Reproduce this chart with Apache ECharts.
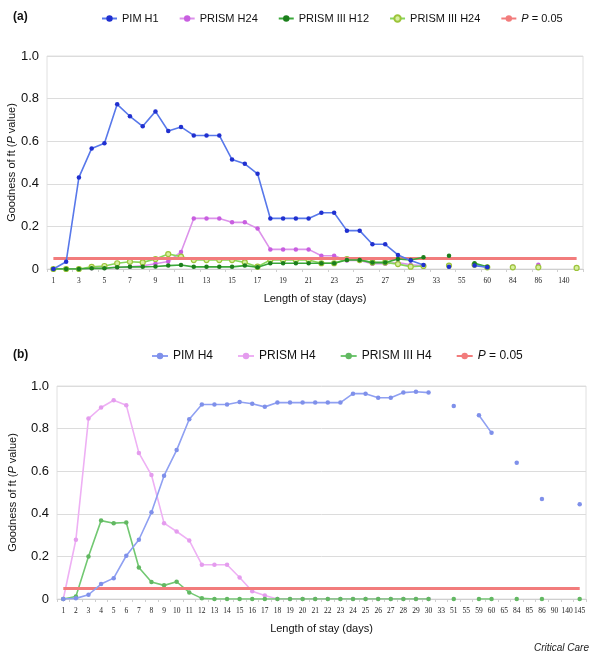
<!DOCTYPE html>
<html>
<head>
<meta charset="utf-8">
<script src="https://cdn.jsdelivr.net/npm/echarts@6/dist/echarts.min.js"></script>
<style>
html,body{margin:0;padding:0;background:#fff;}
#chart{width:600px;height:654px;}
</style>
</head>
<body>
<div id="chart"></div>
<script>
// Categories: length of stay (days)
const categories = ['1','2','3','4','5','6','7','8','9','10','11','12','13','14','15','16','17','18','19','20',
  '21','22','23','24','25','26','27','28','29','30','33','51','55','59','60','65','84','85','86','90','140','145'];

const yTicks = [0, 0.2, 0.4, 0.6, 0.8, 1.0];
const pValue = 0.05;

// Panel (a)
const pimH1 = [0, 0.034, 0.43, 0.566, 0.59, 0.773, 0.717, 0.67, 0.74, 0.648, 0.667, 0.627, 0.627, 0.627, 0.514, 0.494, 0.447,
  0.2375, 0.2375, 0.2375, 0.2375, 0.264, 0.264, 0.18, 0.18, 0.116, 0.116, 0.066, 0.04, 0.019,
  null, 0.011, null, 0.016, 0.008, null, null, null, null, null, null, null];
const prismH24 = [0, 0, 0, 0.003, 0.005, 0.008, 0.01, 0.015, 0.025, 0.035, 0.08, 0.2375, 0.2375, 0.2375, 0.219, 0.219, 0.19,
  0.092, 0.092, 0.092, 0.092, 0.0625, 0.0625, 0.04, 0.04, 0.025, 0.025, 0.03, 0.02, 0.015,
  null, null, null, null, null, null, 0.012, null, 0.02, null, null, null];
const prism3H12 = [0, 0, 0, 0.003, 0.003, 0.008, 0.01, 0.01, 0.012, 0.016, 0.019, 0.01, 0.01, 0.01, 0.01, 0.016, 0.008,
  0.027, 0.027, 0.027, 0.027, 0.027, 0.027, 0.042, 0.042, 0.03, 0.03, 0.047, 0.042, 0.055,
  null, 0.0625, null, 0.027, 0.01, null, null, null, null, null, null, null];
const prism3H24 = [0, 0, 0, 0.01, 0.014, 0.027, 0.034, 0.031, 0.047, 0.07, 0.058, 0.042, 0.042, 0.042, 0.042, 0.031, 0.011,
  0.042, 0.042, 0.042, 0.042, 0.027, 0.027, 0.047, 0.042, 0.031, 0.031, 0.023, 0.011, 0.014,
  null, 0.016, null, 0.02, 0.008, null, 0.008, null, 0.008, null, null, 0.005];

// Panel (b)
const pimH4 = [0, 0.003, 0.02, 0.07, 0.098, 0.203, 0.278, 0.407, 0.579, 0.699, 0.844, 0.913, 0.913, 0.913, 0.925, 0.917, 0.902,
  0.922, 0.922, 0.922, 0.922, 0.922, 0.922, 0.964, 0.964, 0.945, 0.945, 0.969, 0.973, 0.969,
  null, 0.906, null, 0.863, 0.78, null, 0.64, null, 0.47, null, null, 0.445];
const prismH4 = [0, 0.278, 0.847, 0.899, 0.933, 0.91, 0.686, 0.582, 0.356, 0.317, 0.275, 0.161, 0.161, 0.161, 0.101, 0.036, 0.016,
  0, 0, 0, 0, 0, 0, 0, 0, 0, 0, 0, 0, 0,
  null, null, null, null, null, null, null, null, null, null, null, null];
const prism3H4 = [0, 0.012, 0.2, 0.368, 0.356, 0.359, 0.148, 0.08, 0.064, 0.081, 0.031, 0.003,
  0, 0, 0, 0, 0, 0, 0, 0, 0, 0, 0, 0, 0, 0, 0, 0, 0, 0,
  null, 0, null, 0, 0, null, 0, null, 0, null, null, 0];

const FONT = "'Liberation Sans', Arial, sans-serif";
const SERIF = "'Liberation Serif', 'Times New Roman', serif";

function lineSeries(name, data, axis, lineColor, dotColor, opts) {
  opts = opts || {};
  return {
    name: name, type: 'line', data: data,
    xAxisIndex: axis, yAxisIndex: axis,
    connectNulls: false,
    symbol: opts.symbol || 'circle',
    symbolSize: opts.size || 4.5,
    showSymbol: true,
    lineStyle: {color: lineColor, width: opts.width || 1.6},
    itemStyle: {color: opts.fill || dotColor, borderColor: dotColor, borderWidth: opts.bw || 0},
    color: lineColor,
    z: opts.z || 3,
    animation: false
  };
}

function pSeries(axis, color) {
  return {
    name: 'P = 0.05', type: 'line', data: [],
    xAxisIndex: axis, yAxisIndex: axis,
    symbol: 'none', color: color,
    lineStyle: {color: color, width: 3},
    z: 2, animation: false,
    markLine: {
      symbol: 'none', silent: true, animation: false,
      label: {show: false},
      lineStyle: {color: color, width: 3, type: 'solid'},
      data: [[{coord: [categories[0], pValue]}, {coord: [categories[categories.length - 1], pValue]}]]
    }
  };
}

function xAxisCfg(grid, interval) {
  return {
    type: 'category', gridIndex: grid, data: categories, boundaryGap: true,
    name: 'Length of stay (days)', nameLocation: 'middle', nameGap: 24,
    nameTextStyle: {fontFamily: FONT, fontSize: 11, color: '#111'},
    axisLine: {show: true, lineStyle: {color: '#cfcfcf'}},
    axisTick: {show: true, alignWithLabel: false, length: 3, lineStyle: {color: '#cfcfcf'}},
    axisLabel: {interval: interval, fontFamily: SERIF, fontSize: 7.5, color: '#222', margin: 8, hideOverlap: false},
    splitLine: {show: false}
  };
}

function yAxisCfg(grid, gap) {
  return {
    type: 'value', gridIndex: grid, min: 0, max: 1, interval: 0.2,
    name: 'Goodness of ft ({i|P} value)', nameLocation: 'middle', nameRotate: 90, nameGap: gap,
    nameMoveOverlap: false,
    nameTextStyle: {fontFamily: FONT, fontSize: 11, color: '#111',
      rich: {i: {fontStyle: 'italic', fontFamily: FONT, fontSize: 11, color: '#111'}}},
    axisLine: {show: false}, axisTick: {show: false},
    axisLabel: {fontFamily: FONT, fontSize: 13, color: '#111', margin: 8,
      formatter: v => (v === 0 ? '0' : v.toFixed(1))},
    splitLine: {show: true, lineStyle: {color: '#dcdcdc', width: 1}}
  };
}

const legendRichA = {i: {fontStyle: 'italic', fontFamily: FONT, fontSize: 11, color: '#111'}};
const legendRichB = {i: {fontStyle: 'italic', fontFamily: FONT, fontSize: 12, color: '#111'}};
const legendFmt = name => (name === 'P = 0.05' ? '{i|P} = 0.05' : name);

const option = {
  backgroundColor: '#fff',
  animation: false,
  title: [
    {text: '(a)', left: 8, top: 6, textStyle: {fontFamily: FONT, fontSize: 12, fontWeight: 'bold', color: '#111'}},
    {text: '(b)', left: 8, top: 344, textStyle: {fontFamily: FONT, fontSize: 12, fontWeight: 'bold', color: '#111'}},
    {text: 'Critical Care', right: 6, top: 638, textStyle: {fontFamily: FONT, fontSize: 10, fontStyle: 'italic', fontWeight: 'normal', color: '#222'}}
  ],
  legend: [
    {data: ['PIM H1', 'PRISM H24', 'PRISM III H12', 'PRISM III H24', 'P = 0.05'],
     left: 96, top: 8, width: 500, itemWidth: 15, itemHeight: 8, itemGap: 20,
     textStyle: {fontFamily: FONT, fontSize: 11, color: '#111', rich: legendRichA}, formatter: legendFmt},
    {data: ['PIM H4', 'PRISM H4', 'PRISM III H4', 'P = 0.05'],
     left: 146, top: 345, width: 450, itemWidth: 16, itemHeight: 8, itemGap: 24,
     textStyle: {fontFamily: FONT, fontSize: 12, color: '#111', rich: legendRichB}, formatter: legendFmt}
  ],
  grid: [
    {left: 47, right: 17, top: 56, height: 213, outerBoundsMode: 'none', containLabel: false,
     show: true, borderColor: '#e0e0e0', borderWidth: 1, backgroundColor: 'transparent'},
    {left: 57, right: 14, top: 386, height: 213, outerBoundsMode: 'none', containLabel: false,
     show: true, borderColor: '#e0e0e0', borderWidth: 1, backgroundColor: 'transparent'}
  ],
  xAxis: [xAxisCfg(0, 1), xAxisCfg(1, 0)],
  yAxis: [yAxisCfg(0, 30), yAxisCfg(1, 39)],
  series: [
    pSeries(0, '#f27c7c'),
    lineSeries('PRISM H24', prismH24, 0, '#dc92ea', '#c85ee0', {z: 3}),
    lineSeries('PRISM III H24', prism3H24, 0, '#86d65a', '#9cc43a', {symbol: 'circle', fill: '#d8f0a0', bw: 1.2, size: 5, z: 4}),
    lineSeries('PRISM III H12', prism3H12, 0, '#3aa83a', '#1b7f1b', {z: 5}),
    lineSeries('PIM H1', pimH1, 0, '#5878ea', '#2030d0', {z: 6}),
    pSeries(1, '#f27c7c'),
    lineSeries('PRISM H4', prismH4, 1, '#eeb0f4', '#e49cee', {z: 3}),
    lineSeries('PRISM III H4', prism3H4, 1, '#72c872', '#62b862', {z: 4}),
    lineSeries('PIM H4', pimH4, 1, '#8fa0f2', '#7f90ea', {z: 5})
  ]
};

const chart = echarts.init(document.getElementById('chart'), null, {renderer: 'canvas'});
chart.setOption(option);
</script>
</body>
</html>
